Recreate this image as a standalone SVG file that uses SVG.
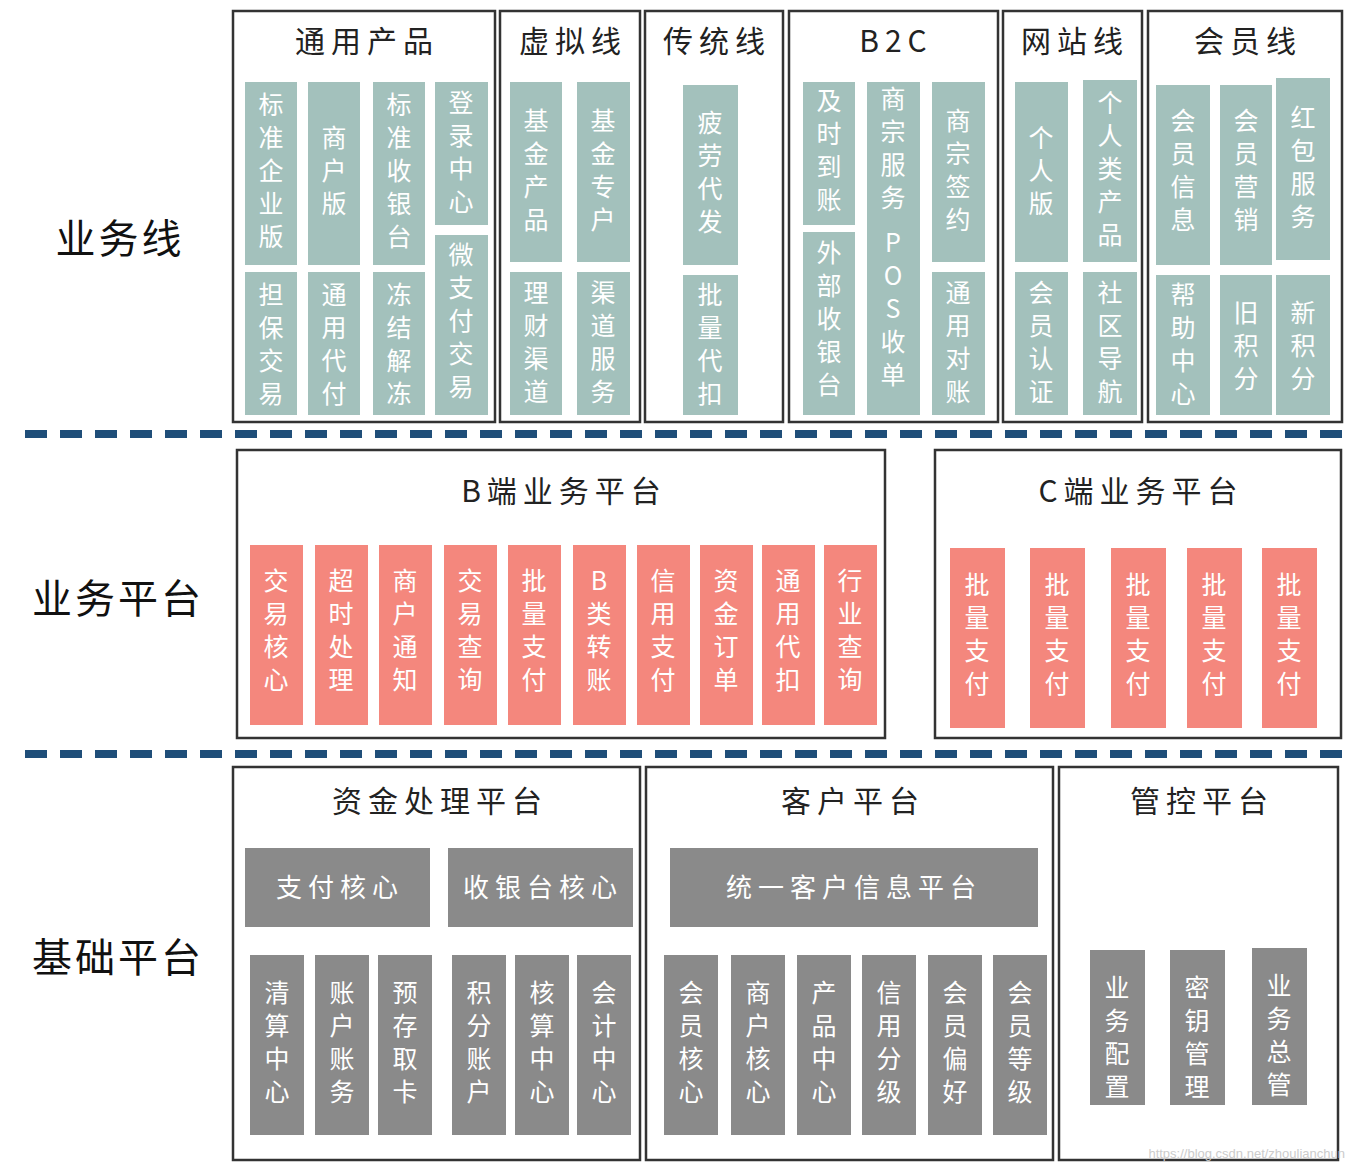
<svg xmlns="http://www.w3.org/2000/svg" width="1354" height="1170" viewBox="0 0 1354 1170">
<style>
text{font-family:"Noto Sans CJK SC","Noto Sans",sans-serif}
.box{fill:#fff;stroke:#333;stroke-width:2.5}
.t{font-size:30px;fill:#222;text-anchor:middle;letter-spacing:6px}
.lab{font-size:40px;fill:#111;text-anchor:middle;letter-spacing:3px}
.v{writing-mode:vertical-rl;text-orientation:upright;font-size:25px;letter-spacing:8px;fill:#fff}
.g{fill:#a3c1bc}.r{fill:#f4877d}.k{fill:#8a8a8a}
.h{font-size:26px;fill:#fff;text-anchor:middle;letter-spacing:6px}
.dash{stroke:#1f4e79;stroke-width:8;stroke-dasharray:22 13}
</style>
<rect width="1354" height="1170" fill="#fff"/>
<g id="labels">
<text class="lab" x="120" y="253">业务线</text>
<text class="lab" x="118" y="613">业务平台</text>
<text class="lab" x="118" y="972">基础平台</text>
</g>
<g id="connectors">
<line class="dash" x1="25" y1="434" x2="1342" y2="434"/>
<line class="dash" x1="25" y1="754" x2="1342" y2="754"/>
</g>
<g id="tongyong">
<rect class="box" x="233" y="11" width="262" height="411"/>
<text class="t" x="367" y="52">通用产品</text>
<rect class="g" x="245" y="82" width="52" height="183"/><text class="v" x="271" y="92">标准企业版</text>
<rect class="g" x="308" y="82" width="52" height="183"/><text class="v" x="334" y="125">商户版</text>
<rect class="g" x="373" y="82" width="52" height="183"/><text class="v" x="399" y="92">标准收银台</text>
<rect class="g" x="435" y="82" width="53" height="143"/><text class="v" x="461" y="90">登录中心</text>
<rect class="g" x="435" y="235" width="53" height="180"/><text class="v" x="461" y="242">微支付交易</text>
<rect class="g" x="245" y="272" width="52" height="143"/><text class="v" x="271" y="282">担保交易</text>
<rect class="g" x="308" y="272" width="52" height="143"/><text class="v" x="334" y="282">通用代付</text>
<rect class="g" x="373" y="272" width="52" height="143"/><text class="v" x="399" y="282">冻结解冻</text>
</g>
<g id="xuni">
<rect class="box" x="500" y="11" width="140" height="411"/>
<text class="t" x="573" y="52">虚拟线</text>
<rect class="g" x="510" y="82" width="52" height="180"/><text class="v" x="536" y="108">基金产品</text>
<rect class="g" x="577" y="82" width="53" height="180"/><text class="v" x="603" y="108">基金专户</text>
<rect class="g" x="510" y="272" width="52" height="143"/><text class="v" x="536" y="280">理财渠道</text>
<rect class="g" x="577" y="272" width="53" height="143"/><text class="v" x="603" y="280">渠道服务</text>
</g>
<g id="chuantong">
<rect class="box" x="645" y="11" width="138" height="411"/>
<text class="t" x="717" y="52">传统线</text>
<rect class="g" x="683" y="85" width="55" height="180"/><text class="v" x="710" y="110">疲劳代发</text>
<rect class="g" x="683" y="275" width="55" height="140"/><text class="v" x="710" y="282">批量代扣</text>
</g>
<g id="b2c">
<rect class="box" x="789" y="11" width="209" height="411"/>
<text class="t" x="896" y="52">B2C</text>
<rect class="g" x="803" y="82" width="52" height="143"/><text class="v" x="829" y="88">及时到账</text>
<rect class="g" x="867" y="82" width="53" height="150"/><text class="v" x="893" y="86">商宗服务</text>
<rect class="g" x="932" y="82" width="53" height="180"/><text class="v" x="958" y="108">商宗签约</text>
<rect class="g" x="803" y="232" width="52" height="183"/><text class="v" x="829" y="240">外部收银台</text>
<rect class="g" x="867" y="232" width="53" height="183"/><text class="v" x="893" y="230">POS收单</text>
<rect class="g" x="932" y="272" width="53" height="143"/><text class="v" x="958" y="280">通用对账</text>
</g>
<g id="wangzhan">
<rect class="box" x="1003" y="11" width="139" height="411"/>
<text class="t" x="1075" y="52">网站线</text>
<rect class="g" x="1015" y="82" width="53" height="180"/><text class="v" x="1041" y="125">个人版</text>
<rect class="g" x="1083" y="80" width="54" height="182"/><text class="v" x="1110" y="90">个人类产品</text>
<rect class="g" x="1015" y="272" width="53" height="143"/><text class="v" x="1041" y="280">会员认证</text>
<rect class="g" x="1083" y="272" width="54" height="143"/><text class="v" x="1110" y="280">社区导航</text>
</g>
<g id="huiyuan">
<rect class="box" x="1148" y="11" width="194" height="411"/>
<text class="t" x="1248" y="52">会员线</text>
<rect class="g" x="1156" y="85" width="54" height="180"/><text class="v" x="1183" y="108">会员信息</text>
<rect class="g" x="1220" y="85" width="52" height="180"/><text class="v" x="1246" y="108">会员营销</text>
<rect class="g" x="1276" y="78" width="54" height="182"/><text class="v" x="1303" y="105">红包服务</text>
<rect class="g" x="1156" y="275" width="54" height="140"/><text class="v" x="1183" y="282">帮助中心</text>
<rect class="g" x="1220" y="275" width="52" height="140"/><text class="v" x="1246" y="300">旧积分</text>
<rect class="g" x="1276" y="275" width="54" height="140"/><text class="v" x="1303" y="300">新积分</text>
</g>
<g id="bduan">
<rect class="box" x="237" y="450" width="648" height="288"/>
<text class="t" x="564" y="502">B端业务平台</text>
<rect class="r" x="250" y="545" width="53" height="180"/><text class="v" x="276" y="568">交易核心</text>
<rect class="r" x="315" y="545" width="53" height="180"/><text class="v" x="341" y="568">超时处理</text>
<rect class="r" x="379" y="545" width="53" height="180"/><text class="v" x="405" y="568">商户通知</text>
<rect class="r" x="444" y="545" width="53" height="180"/><text class="v" x="470" y="568">交易查询</text>
<rect class="r" x="508" y="545" width="53" height="180"/><text class="v" x="534" y="568">批量支付</text>
<rect class="r" x="573" y="545" width="53" height="180"/><text class="v" x="599" y="568">B类转账</text>
<rect class="r" x="637" y="545" width="53" height="180"/><text class="v" x="663" y="568">信用支付</text>
<rect class="r" x="700" y="545" width="53" height="180"/><text class="v" x="726" y="568">资金订单</text>
<rect class="r" x="762" y="545" width="53" height="180"/><text class="v" x="788" y="568">通用代扣</text>
<rect class="r" x="824" y="545" width="53" height="180"/><text class="v" x="850" y="568">行业查询</text>
</g>
<g id="cduan">
<rect class="box" x="935" y="450" width="406" height="288"/>
<text class="t" x="1141" y="502">C端业务平台</text>
<rect class="r" x="950" y="548" width="55" height="180"/><text class="v" x="977" y="572">批量支付</text>
<rect class="r" x="1030" y="548" width="55" height="180"/><text class="v" x="1057" y="572">批量支付</text>
<rect class="r" x="1111" y="548" width="55" height="180"/><text class="v" x="1138" y="572">批量支付</text>
<rect class="r" x="1187" y="548" width="55" height="180"/><text class="v" x="1214" y="572">批量支付</text>
<rect class="r" x="1262" y="548" width="55" height="180"/><text class="v" x="1289" y="572">批量支付</text>
</g>
<g id="zijin">
<rect class="box" x="233" y="767" width="407" height="393"/>
<text class="t" x="440" y="812">资金处理平台</text>
<rect class="k" x="245" y="848" width="185" height="79"/><text class="h" x="340" y="897">支付核心</text>
<rect class="k" x="448" y="848" width="185" height="79"/><text class="h" x="543" y="897">收银台核心</text>
<rect class="k" x="250" y="955" width="54" height="180"/><text class="v" x="277" y="980">清算中心</text>
<rect class="k" x="315" y="955" width="54" height="180"/><text class="v" x="342" y="980">账户账务</text>
<rect class="k" x="378" y="955" width="54" height="180"/><text class="v" x="405" y="980">预存取卡</text>
<rect class="k" x="452" y="955" width="54" height="180"/><text class="v" x="479" y="980">积分账户</text>
<rect class="k" x="515" y="955" width="54" height="180"/><text class="v" x="542" y="980">核算中心</text>
<rect class="k" x="577" y="955" width="54" height="180"/><text class="v" x="604" y="980">会计中心</text>
</g>
<g id="kehu">
<rect class="box" x="646" y="767" width="407" height="393"/>
<text class="t" x="853" y="812">客户平台</text>
<rect class="k" x="670" y="848" width="368" height="79"/><text class="h" x="854" y="897">统一客户信息平台</text>
<rect class="k" x="664" y="955" width="54" height="180"/><text class="v" x="691" y="980">会员核心</text>
<rect class="k" x="731" y="955" width="54" height="180"/><text class="v" x="758" y="980">商户核心</text>
<rect class="k" x="797" y="955" width="54" height="180"/><text class="v" x="824" y="980">产品中心</text>
<rect class="k" x="862" y="955" width="54" height="180"/><text class="v" x="889" y="980">信用分级</text>
<rect class="k" x="928" y="955" width="54" height="180"/><text class="v" x="955" y="980">会员偏好</text>
<rect class="k" x="993" y="955" width="54" height="180"/><text class="v" x="1020" y="980">会员等级</text>
</g>
<g id="guankong">
<rect class="box" x="1059" y="767" width="279" height="393"/>
<text class="t" x="1202" y="812">管控平台</text>
<rect class="k" x="1090" y="950" width="55" height="155"/><text class="v" x="1117" y="975">业务配置</text>
<rect class="k" x="1170" y="950" width="55" height="155"/><text class="v" x="1197" y="975">密钥管理</text>
<rect class="k" x="1252" y="948" width="55" height="157"/><text class="v" x="1279" y="973">业务总管</text>
<text x="1345" y="1158" font-size="13" fill="#ccc" text-anchor="end" style="font-family:'Liberation Sans',sans-serif">https://blog.csdn.net/zhoulianchun</text>
</g>
</svg>
